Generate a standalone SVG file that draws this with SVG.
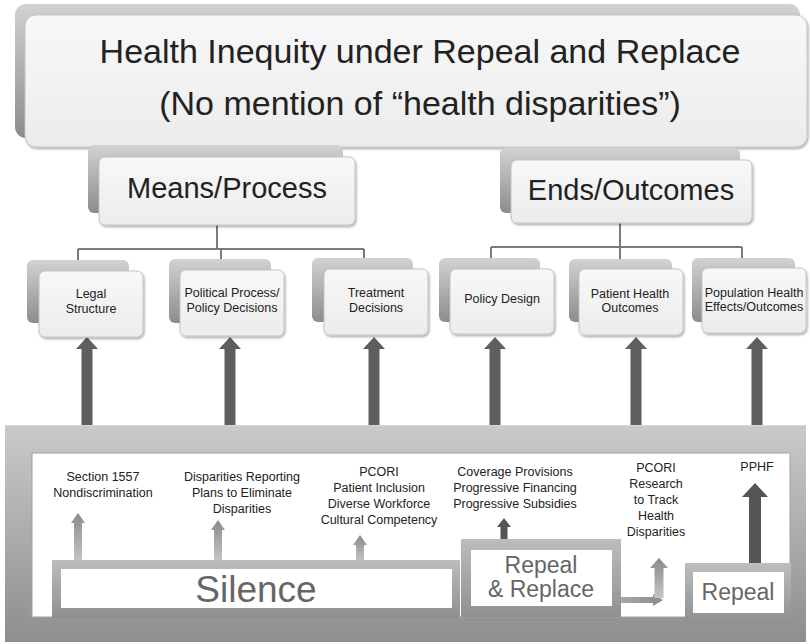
<svg xmlns="http://www.w3.org/2000/svg" width="810" height="644" viewBox="0 0 810 644">
<defs>
<linearGradient id="backG" x1="0" y1="0" x2="0" y2="1"><stop offset="0" stop-color="#d2d2d2"/><stop offset="1" stop-color="#8c8c8c"/></linearGradient>
<linearGradient id="frontG" x1="0" y1="0" x2="0" y2="1"><stop offset="0" stop-color="#f8f8f8"/><stop offset="1" stop-color="#ececec"/></linearGradient>
<linearGradient id="panelG" x1="0" y1="0" x2="0" y2="1"><stop offset="0" stop-color="#cacaca"/><stop offset="1" stop-color="#8e8e8e"/></linearGradient>
<linearGradient id="frameG" x1="0" y1="0" x2="0" y2="1"><stop offset="0" stop-color="#bdbdbd"/><stop offset="1" stop-color="#8f8f8f"/></linearGradient>
<linearGradient id="smallG" x1="0" y1="0" x2="0" y2="1"><stop offset="0" stop-color="#8a8a8a"/><stop offset="1" stop-color="#c4c4c4"/></linearGradient>
<linearGradient id="hG" x1="0" y1="0" x2="1" y2="0"><stop offset="0" stop-color="#a8a8a8"/><stop offset="1" stop-color="#8a8a8a"/></linearGradient>
<filter id="sh" x="-10%" y="-10%" width="130%" height="130%"><feDropShadow dx="1" dy="1.5" stdDeviation="1.2" flood-color="#000" flood-opacity="0.35"/></filter>
</defs>
<style>
.back{fill:url(#backG);}
.front{fill:url(#frontG);stroke:#c4c4c4;stroke-width:1;filter:url(#sh);}
.t{font-family:"Liberation Sans",Arial,sans-serif;fill:#222;text-anchor:middle;}
.s{font-size:12.5px;}
.g{fill:#666;}
.conn{fill:none;stroke:#7a7a7a;stroke-width:2;}
.big{fill:#5e5e5e;}
.dark{fill:#555;}
.sm{fill:url(#smallG);}
</style>
<rect x="0" y="0" width="810" height="644" fill="#ffffff"/>

<g id="connectors">
<path class="conn" d="M217,225 V249 M78,249 H364 M78,249 V262 M221,249 V262 M364,249 V262"/>
<path class="conn" d="M620,223 V247 M491,247 H742 M491,247 V260 M620,247 V260 M742,247 V260"/>
<polygon class="big" points="87,337 76,349 81.5,349 81.5,427 92.5,427 92.5,349 98,349"/>
<polygon class="big" points="230,337 219,349 224.5,349 224.5,427 235.5,427 235.5,349 241,349"/>
<polygon class="big" points="374,337 363,349 368.5,349 368.5,427 379.5,427 379.5,349 385,349"/>
<polygon class="big" points="495,337 484,349 489.5,349 489.5,427 500.5,427 500.5,349 506,349"/>
<polygon class="big" points="636,337 625,349 630.5,349 630.5,427 641.5,427 641.5,349 647,349"/>
<polygon class="big" points="757,337 746,349 751.5,349 751.5,427 762.5,427 762.5,349 768,349"/>
</g>

<g id="title">
<rect class="back" x="15" y="4" width="785" height="134" rx="11"/>
<rect class="front" x="25" y="15" width="782" height="132" rx="11"/>
<text class="t" x="420" y="63" font-size="34">Health Inequity under Repeal and Replace</text>
<text class="t" x="420" y="115" font-size="34">(No mention of “health disparities”)</text>
</g>

<g id="means">
<rect class="back" x="88" y="145" width="255" height="68" rx="6"/>
<rect class="front" x="99" y="157" width="256" height="68" rx="6"/>
<text class="t" x="227" y="198" font-size="29">Means/Process</text>
</g>

<g id="ends">
<rect class="back" x="500" y="148" width="240" height="65" rx="6"/>
<rect class="front" x="511" y="160" width="241" height="63" rx="6"/>
<text class="t" x="631" y="200" font-size="29">Ends/Outcomes</text>
</g>

<g id="legal">
<rect class="back" x="27" y="260" width="102" height="63" rx="6"/>
<rect class="front" x="39" y="271" width="104" height="66" rx="6"/>
<text class="t s" x="91" y="298">Legal</text>
<text class="t s" x="91" y="313">Structure</text>
</g>

<g id="political">
<rect class="back" x="169" y="259" width="102" height="64" rx="6"/>
<rect class="front" x="180" y="270" width="104" height="66" rx="6"/>
<text class="t s" x="232" y="297">Political Process/</text>
<text class="t s" x="232" y="312">Policy Decisions</text>
</g>

<g id="treatment">
<rect class="back" x="312" y="258" width="101" height="64" rx="6"/>
<rect class="front" x="324" y="269" width="104" height="66" rx="6"/>
<text class="t s" x="376" y="297">Treatment</text>
<text class="t s" x="376" y="312">Decisions</text>
</g>

<g id="policy">
<rect class="back" x="439" y="258" width="101" height="64" rx="6"/>
<rect class="front" x="450" y="269" width="104" height="65" rx="6"/>
<text class="t s" x="502" y="303">Policy Design</text>
</g>

<g id="patient">
<rect class="back" x="569" y="259" width="103" height="63" rx="6"/>
<rect class="front" x="579" y="269" width="104" height="66" rx="6"/>
<text class="t s" x="630" y="298">Patient Health</text>
<text class="t s" x="630" y="312">Outcomes</text>
</g>

<g id="population">
<rect class="back" x="692" y="258" width="103" height="64" rx="6"/>
<rect class="front" x="702" y="268" width="104" height="65" rx="6"/>
<text class="t s" x="754" y="297">Population Health</text>
<text class="t s" x="754" y="311">Effects/Outcomes</text>
</g>

<g id="panel">
<rect x="5" y="425" width="801" height="217" fill="url(#panelG)"/>
<line x1="5" y1="425.5" x2="806" y2="425.5" stroke="#d8d8d8" stroke-width="1"/>
<rect x="32" y="453" width="758" height="164" fill="#ffffff" stroke="#a0a0a0" stroke-width="1"/>
</g>

<g id="items">
<text class="t s" x="103" y="481">Section 1557</text>
<text class="t s" x="103" y="497">Nondiscrimination</text>
<text class="t s" x="242" y="481">Disparities Reporting</text>
<text class="t s" x="242" y="497">Plans to Eliminate</text>
<text class="t s" x="242" y="513">Disparities</text>
<text class="t s" x="379" y="476">PCORI</text>
<text class="t s" x="379" y="492">Patient Inclusion</text>
<text class="t s" x="379" y="508">Diverse Workforce</text>
<text class="t s" x="379" y="524">Cultural Competency</text>
<text class="t s" x="515" y="476">Coverage Provisions</text>
<text class="t s" x="515" y="492">Progressive Financing</text>
<text class="t s" x="515" y="508">Progressive Subsidies</text>
<text class="t s" x="656" y="472">PCORI</text>
<text class="t s" x="656" y="488">Research</text>
<text class="t s" x="656" y="504">to Track</text>
<text class="t s" x="656" y="520">Health</text>
<text class="t s" x="656" y="536">Disparities</text>
<text class="t s" x="757" y="471">PPHF</text>
</g>

<g id="small-arrows">
<polygon class="sm" points="78,513 71,523 74,523 74,560 82,560 82,523 85,523"/>
<polygon class="sm" points="218,520 211,530 214,530 214,560 222,560 222,530 225,530"/>
<polygon class="sm" points="360,535 353,545 356,545 356,561 364,561 364,545 367,545"/>
<polygon class="dark" points="504,518 497,527 500.5,527 500.5,539 507.5,539 507.5,527 511,527"/>
<polygon class="dark" points="755,483 742,497 749,497 749,564 761,564 761,497 768,497"/>
<polygon fill="url(#hG)" points="621,597 653,597 653,594 663,600 653,606 653,603 621,603"/>
<polygon class="sm" points="659,558 650,568 654.5,568 654.5,598 663.5,598 663.5,568 668,568"/>
</g>

<g id="silence">
<rect x="52" y="560" width="408" height="58" fill="url(#frameG)"/>
<rect x="61" y="569" width="391" height="39" fill="#ffffff"/>
<text class="t g" x="256" y="602" font-size="37">Silence</text>
</g>

<g id="repeal-replace">
<rect x="461" y="539" width="160" height="78" fill="url(#frameG)"/>
<rect x="471" y="550" width="141" height="56" fill="#ffffff"/>
<text class="t g" x="541" y="573" font-size="23">Repeal</text>
<text class="t g" x="541" y="597" font-size="23">&amp; Replace</text>
</g>

<g id="repeal">
<rect x="685" y="563" width="106" height="60" fill="url(#frameG)"/>
<rect x="693" y="572" width="91" height="41" fill="#ffffff"/>
<text class="t g" x="738" y="600" font-size="23">Repeal</text>
</g>
</svg>
